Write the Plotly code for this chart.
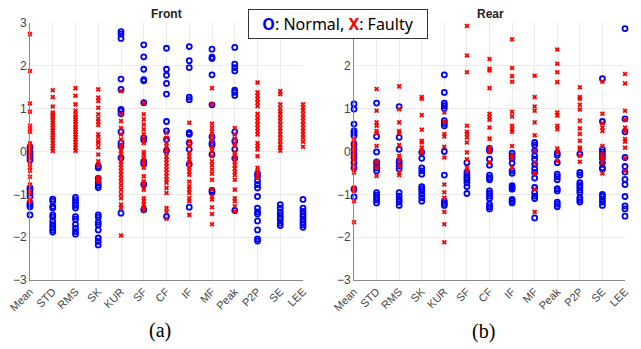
import plotly.graph_objects as go

features = ["Mean", "STD", "RMS", "SK", "KUR", "SF", "CF", "IF", "MF", "Peak", "P2P", "SE", "LEE"]
y_ticks_front = [-3, -2, -1, 0, 1, 2, 3]
y_ticks_rear = [-3, -2, -1, 0, 1, 2]

front_normal = [
    [0.1, 0.0, -0.07, -0.13, -0.2, -0.85, -0.9, -0.97, -1.05, -1.2, -1.24, -1.29, -1.48],
    [-1.11, -1.16, -1.28, -1.32, -1.48, -1.53, -1.63, -1.71, -1.77, -1.83, -1.88],
    [-1.07, -1.13, -1.2, -1.26, -1.32, -1.52, -1.58, -1.7, -1.79, -1.87, -1.93],
    [-0.34, -0.38, -0.63, -0.73, -0.79, -0.84, -1.48, -1.53, -1.65, -1.71, -1.83, -2.02, -2.1, -2.18],
    [2.8, 2.74, 2.64, 1.69, 1.45, 0.98, 0.95, 0.88, 0.46, 0.2, 0.12, -0.15, -1.44],
    [2.49, 2.21, 1.92, 1.68, 1.65, 1.14, 0.32, 0.26, -0.23, -0.29, -0.77, -1.36],
    [2.41, 1.92, 1.78, 1.59, 1.34, 0.7, 0.48, 0.28, 0.02, -1.52],
    [2.45, 2.12, 1.96, 1.27, 1.21, 0.44, 0.4, 0.2, 0.05, -0.3, -1.3],
    [2.39, 2.2, 2.17, 1.79, 1.09, 0.34, 0.2, 0.15, -0.07, -0.91, -0.95],
    [2.43, 2.04, 1.96, 1.88, 1.43, 1.38, 1.31, 0.46, 0.24, 0.05, -0.16, -1.38],
    [-0.52, -0.58, -0.68, -0.77, -0.85, -1.05, -1.32, -1.41, -1.46, -1.62, -1.83, -2.04, -2.09],
    [-1.24, -1.32, -1.41, -1.48, -1.54, -1.59, -1.67, -1.73],
    [-1.12, -1.32, -1.4, -1.46, -1.52, -1.59, -1.65, -1.71, -1.77],
]
front_faulty = [
    [2.74, 1.88, 1.12, 0.93, 0.6, 0.52, 0.46, 0.19, 0.14, 0.09, 0.0, -0.07, -0.16, -0.27, -0.37, -0.45, -0.59, -0.77, -0.93, -0.96, -1.12, -1.16],
    [1.43, 1.27, 1.05, 0.91, 0.87, 0.83, 0.77, 0.73, 0.67, 0.62, 0.55, 0.49, 0.44, 0.38, 0.32, 0.26, 0.2, 0.13, 0.07, 0.01],
    [1.48, 1.3, 1.1, 0.95, 0.87, 0.8, 0.75, 0.7, 0.63, 0.57, 0.52, 0.46, 0.4, 0.34, 0.28, 0.22, 0.15, 0.09, 0.02],
    [1.45, 1.26, 1.18, 1.02, 0.87, 0.77, 0.7, 0.62, 0.4, 0.34, 0.24, 0.2, 0.1, -0.07, -0.23, -0.34, -0.6, -0.62, -0.66, -0.7],
    [1.41, 0.87, 0.71, 0.55, 0.4, 0.28, 0.15, 0.09, 0.01, -0.05, -0.13, -0.23, -0.3, -0.38, -0.46, -0.54, -0.62, -0.7, -0.79, -0.89, -1.0, -1.09, -1.24, -1.32, -1.96],
    [1.14, 0.87, 0.75, 0.63, 0.52, 0.41, 0.3, 0.2, -0.01, -0.07, -0.15, -0.23, -0.3, -0.38, -0.58, -0.7, -0.77, -0.89, -1.09, -1.16, -1.24, -1.3, -1.36],
    [0.44, 0.32, 0.2, 0.13, 0.05, -0.03, -0.11, -0.19, -0.27, -0.34, -0.42, -0.5, -0.58, -0.66, -0.73, -0.85, -0.97, -1.32, -1.41, -1.57],
    [0.67, 0.24, 0.13, -0.03, -0.11, -0.19, -0.27, -0.38, -0.46, -0.54, -0.7, -0.81, -0.89, -0.97, -1.09, -1.16, -1.48],
    [1.48, 1.1, 0.65, 0.55, 0.46, 0.36, 0.26, 0.1, 0.01, -0.11, -0.23, -0.32, -0.42, -0.52, -0.66, -0.89, -1.05, -1.12, -1.3, -1.46, -1.7],
    [0.55, 0.4, 0.3, 0.2, 0.13, -0.01, -0.09, -0.16, -0.24, -0.32, -0.4, -0.48, -0.55, -0.66, -0.89, -1.09, -1.16, -1.28, -1.4],
    [1.61, 1.38, 1.3, 1.22, 1.14, 1.06, 0.88, 0.79, 0.71, 0.63, 0.55, 0.48, 0.4, 0.2, 0.13, 0.05, -0.11, -0.38, -0.46, -0.54, -0.62],
    [1.41, 1.34, 1.1, 1.01, 0.93, 0.87, 0.79, 0.71, 0.63, 0.55, 0.48, 0.4, 0.32, 0.24, 0.16, 0.09, 0.02],
    [1.1, 1.02, 0.95, 0.87, 0.79, 0.71, 0.63, 0.55, 0.48, 0.4, 0.32, 0.23, 0.11],
]
rear_normal = [
    [1.11, 0.99, 0.64, 0.48, 0.43, 0.37, 0.17, 0.05, -0.06, -0.14, -0.26, -0.38, -0.88, -1.06],
    [1.13, 0.35, -0.01, -0.24, -0.3, -0.38, -0.45, -0.96, -1.02, -1.08, -1.13, -1.2],
    [1.05, 0.33, 0.05, -0.22, -0.27, -0.34, -0.41, -0.96, -1.04, -1.12, -1.18, -1.26],
    [-0.02, -0.16, -0.38, -0.45, -0.53, -0.82, -0.87, -0.92, -1.0, -1.08, -1.16],
    [1.79, 1.38, 1.13, 1.07, 1.01, 0.72, 0.66, 0.6, 0.0, -0.55, -1.16, -1.21, -1.26],
    [-0.26, -0.49, -0.55, -0.61, -0.66, -0.73, -0.82, -0.98],
    [0.07, 0.02, -0.18, -0.32, -0.55, -0.61, -0.66, -0.92, -0.98, -1.04, -1.1, -1.23, -1.29, -1.34],
    [-0.04, -0.1, -0.16, -0.27, -0.45, -0.51, -0.8, -0.84, -0.88, -1.12, -1.16, -1.2],
    [0.21, 0.15, 0.02, -0.1, -0.18, -0.3, -0.4, -0.49, -0.62, -0.84, -0.96, -1.04, -1.1, -1.55],
    [-0.04, -0.09, -0.26, -0.53, -0.59, -0.66, -0.87, -0.92, -1.18, -1.23, -1.29],
    [-0.06, -0.49, -0.55, -0.73, -0.79, -0.84, -0.9, -0.96, -1.08, -1.13, -1.18],
    [1.7, 0.7, 0.05, -0.01, -0.09, -0.16, -0.26, -0.38, -0.41, -1.0, -1.05, -1.12, -1.18, -1.26],
    [2.87, 0.76, 0.46, -0.14, -0.35, -0.48, -0.65, -0.77, -1.05, -1.27, -1.34, -1.51],
]
rear_faulty = [
    [0.29, 0.21, 0.13, 0.05, -0.02, -0.1, -0.18, -0.3, -0.41, -0.49, -0.84, -0.92, -1.16, -1.65],
    [1.46, 0.95, 0.68, 0.6, 0.48, 0.43, 0.13, -0.22, -0.26, -0.38, -0.57],
    [1.52, 0.99, 0.68, 0.48, 0.43, 0.15, -0.1, -0.2, -0.34, -0.49, -0.55],
    [1.27, 1.23, 0.85, 0.51, 0.25, 0.21, 0.09, 0.02, -0.02],
    [0.91, 0.7, 0.41, 0.35, 0.11, -0.14, -0.77, -0.95, -1.08, -1.41, -1.7, -2.12],
    [2.93, 2.24, 1.85, 0.6, 0.46, 0.41, 0.33, 0.21, -0.02, -0.18, -0.38, -0.45],
    [2.16, 1.93, 1.89, 1.48, 0.88, 0.8, 0.74, 0.56, 0.3, 0.09, 0.04, -0.01, -0.26],
    [2.62, 1.95, 1.76, 1.63, 0.93, 0.82, 0.6, 0.52, 0.46, 0.13, -0.1, -0.16, -0.38],
    [1.77, 1.27, 1.05, 0.95, 0.68, 0.38, 0.02, -0.26, -0.51, -0.88, -1.41],
    [2.38, 2.05, 1.85, 1.62, 0.91, 0.84, 0.6, 0.52, 0.07, -0.01, -0.22],
    [1.5, 1.27, 1.23, 1.09, 0.98, 0.72, 0.54, 0.41, 0.25, 0.09, 0.05, -0.1, -0.24],
    [1.63, 0.88, 0.66, 0.56, 0.48, 0.13, -0.06, -0.14, -0.2, -0.27, -0.51],
    [1.81, 1.59, 0.95, 0.74, 0.56, 0.48, 0.29, 0.23, 0.09, -0.16, -0.45],
]

W, H = 641, 349


def flatten(groups):
    xs, ys = [], []
    for i, vals in enumerate(groups):
        xs += [i] * len(vals)
        ys += vals
    return xs, ys


fig = go.Figure()
for normal, faulty, xa, ya in [(front_normal, front_faulty, "x", "y"), (rear_normal, rear_faulty, "x2", "y2")]:
    nx, ny = flatten(normal)
    fx, fy = flatten(faulty)
    fig.add_trace(go.Scatter(x=nx, y=ny, mode="markers", xaxis=xa, yaxis=ya, cliponaxis=False,
                             marker=dict(symbol="circle-open", size=5, color="#0000ff", line=dict(width=1.8, color="#0000ff")),
                             showlegend=False))
    fig.add_trace(go.Scatter(x=fx, y=fy, mode="markers", xaxis=xa, yaxis=ya, cliponaxis=False,
                             marker=dict(symbol="x", size=4.5, color="#ff0000", line=dict(width=0)),
                             showlegend=False))

ydom = [1 - 280 / H, 1 - 23 / H]
common_x = dict(range=[0, 12], tickmode="array", tickvals=list(range(len(features))), ticktext=features,
                tickangle=-45, showgrid=True, gridcolor="#ebebeb", gridwidth=1, zeroline=False,
                showline=True, linecolor="#8a8a8a", linewidth=1, ticks="",
                tickfont=dict(family="Liberation Sans, Arial", size=11, color="#444444"), automargin=False)
common_y = dict(range=[-3, 3], tickmode="array", showgrid=True, gridcolor="#ebebeb",
                gridwidth=1, zeroline=False, showline=True, linecolor="#8a8a8a", linewidth=1, ticks="",
                tickfont=dict(family="Liberation Sans, Arial", size=12, color="#444444"), automargin=False,
                domain=ydom)

fig.update_layout(
    width=W, height=H, margin=dict(l=0, r=0, t=0, b=0),
    paper_bgcolor="white", plot_bgcolor="white",
    xaxis=dict(domain=[30 / W, 303 / W], anchor="y", **common_x),
    yaxis=dict(anchor="x", tickvals=y_ticks_front, **common_y),
    xaxis2=dict(domain=[354 / W, 625 / W], anchor="y2", **common_x),
    yaxis2=dict(anchor="x2", tickvals=y_ticks_rear, **common_y),
    font=dict(family="Liberation Sans, Arial"),
)

fig.add_annotation(x=166 / W, y=1 - 14 / H, xref="paper", yref="paper", text="<b>Front</b>", showarrow=False,
                   font=dict(size=12, color="#222222"), xanchor="center", yanchor="middle")
fig.add_annotation(x=490 / W, y=1 - 14 / H, xref="paper", yref="paper", text="<b>Rear</b>", showarrow=False,
                   font=dict(size=12, color="#222222"), xanchor="center", yanchor="middle")
fig.add_annotation(x=160 / W, y=1 - 330 / H, xref="paper", yref="paper", text="(a)", showarrow=False,
                   font=dict(family="Liberation Serif, Times New Roman", size=20, color="black"),
                   xanchor="center", yanchor="middle")
fig.add_annotation(x=483 / W, y=1 - 331 / H, xref="paper", yref="paper", text="(b)", showarrow=False,
                   font=dict(family="Liberation Serif, Times New Roman", size=20, color="black"),
                   xanchor="center", yanchor="middle")
fig.add_annotation(x=337.5 / W, y=1 - 24.5 / H, xref="paper", yref="paper",
                   text="<span style='color:#0000ff'><b>O</b></span>: Normal, <span style='color:#ff0000'><b>X</b></span>: Faulty",
                   showarrow=False, font=dict(family="Noto Sans, Open Sans", size=16, color="black"),
                   xanchor="center", yanchor="middle", bgcolor="white", bordercolor="#333333", borderwidth=1,
                   borderpad=3, width=172, height=22)

fig.write_html("out.html")
